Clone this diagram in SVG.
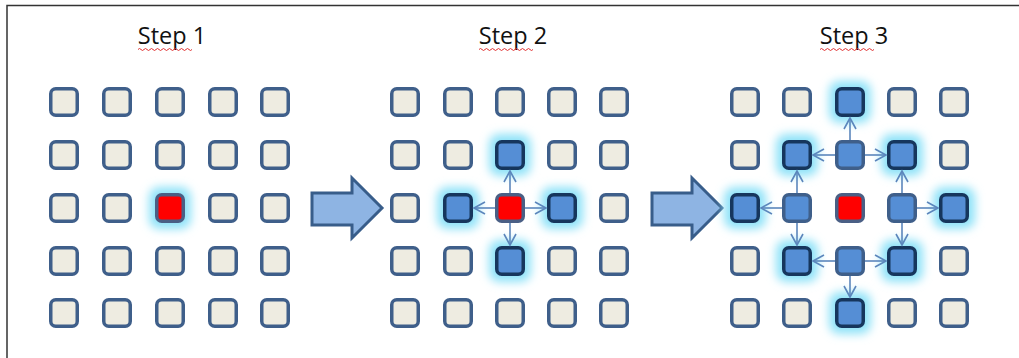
<svg xmlns="http://www.w3.org/2000/svg" width="1019" height="358" viewBox="0 0 1019 358">
<defs>
<style>
.t{font-family:"Open Sans","Liberation Sans",sans-serif;font-size:23.5px;fill:#111;text-anchor:middle}
.b{fill:#EEECE1;stroke:#3F5F8A;stroke-width:3.5}
.n{fill:#558ED5;stroke:#16365D;stroke-width:3.5}
.m{fill:#558ED5;stroke:#3F5F8A;stroke-width:3.5}
.r{fill:#FF0000;stroke:#4A5F85;stroke-width:3.5}
.g{fill:#8FE2F8;filter:url(#blur)}
.c{stroke:#5B86BC;stroke-width:1.6;fill:none;marker-end:url(#ah)}
.sq{fill:none;stroke:#E03030;stroke-width:1}
.ba{fill:#8EB4E3;stroke:#385D8A;stroke-width:3;stroke-linejoin:miter}
</style>
<filter id="blur" x="-50%" y="-50%" width="200%" height="200%"><feGaussianBlur stdDeviation="5"/></filter>
<marker id="ah" viewBox="0 0 14 14" refX="12" refY="7" markerWidth="14" markerHeight="14" markerUnits="userSpaceOnUse" orient="auto"><path d="M1,1 L12,7 L1,13" fill="none" stroke="#5B86BC" stroke-width="1.6"/></marker>
<rect id="s" x="-13.25" y="-13.25" width="26.5" height="26.5" rx="5"/>
<rect id="gl" x="-21" y="-21" width="42" height="42" rx="10"/>
</defs>
<rect width="1019" height="358" fill="#fff"/>
<path d="M7,358 V5.5 H1019" fill="none" stroke="#333" stroke-width="1.5"/>
<text class="t" x="172" y="44">Step 1</text>
<text class="t" x="513" y="44">Step 2</text>
<text class="t" x="854" y="44">Step 3</text>
<path class="sq" d="M138,49.5 q1.5,-2 3,0 t3,0 t3,0 t3,0 t3,0 t3,0 t3,0 t3,0 t3,0 t3,0 t3,0 t3,0 t3,0 t3,0 t3,0 t3,0 t3,0 t3,0"/>
<path class="sq" d="M479,49.5 q1.5,-2 3,0 t3,0 t3,0 t3,0 t3,0 t3,0 t3,0 t3,0 t3,0 t3,0 t3,0 t3,0 t3,0 t3,0 t3,0 t3,0 t3,0 t3,0"/>
<path class="sq" d="M820,49.5 q1.5,-2 3,0 t3,0 t3,0 t3,0 t3,0 t3,0 t3,0 t3,0 t3,0 t3,0 t3,0 t3,0 t3,0 t3,0 t3,0 t3,0 t3,0 t3,0"/>
<g id="arrow1"><path class="ba" d="M312,193 H352 V178 L382,208 L352,238 V225 H312 Z"/></g>
<g id="arrow2"><path class="ba" d="M652,193 H692 V178 L722,208 L692,238 V225 H652 Z"/></g>
<g id="step1">
<use href="#gl" class="g" x="170" y="208"/>
<use href="#s" class="b" x="64" y="102"/><use href="#s" class="b" x="117" y="102"/><use href="#s" class="b" x="170" y="102"/><use href="#s" class="b" x="223" y="102"/><use href="#s" class="b" x="275" y="102"/>
<use href="#s" class="b" x="64" y="155"/><use href="#s" class="b" x="117" y="155"/><use href="#s" class="b" x="170" y="155"/><use href="#s" class="b" x="223" y="155"/><use href="#s" class="b" x="275" y="155"/>
<use href="#s" class="b" x="64" y="208"/><use href="#s" class="b" x="117" y="208"/><use href="#s" class="r" x="170" y="208"/><use href="#s" class="b" x="223" y="208"/><use href="#s" class="b" x="275" y="208"/>
<use href="#s" class="b" x="64" y="261"/><use href="#s" class="b" x="117" y="261"/><use href="#s" class="b" x="170" y="261"/><use href="#s" class="b" x="223" y="261"/><use href="#s" class="b" x="275" y="261"/>
<use href="#s" class="b" x="64" y="313"/><use href="#s" class="b" x="117" y="313"/><use href="#s" class="b" x="170" y="313"/><use href="#s" class="b" x="223" y="313"/><use href="#s" class="b" x="275" y="313"/>
</g>
<g id="step2">
<use href="#gl" class="g" x="510" y="155"/><use href="#gl" class="g" x="458" y="208"/><use href="#gl" class="g" x="562" y="208"/><use href="#gl" class="g" x="510" y="261"/>
<use href="#s" class="b" x="405" y="102"/><use href="#s" class="b" x="458" y="102"/><use href="#s" class="b" x="510" y="102"/><use href="#s" class="b" x="562" y="102"/><use href="#s" class="b" x="614" y="102"/>
<use href="#s" class="b" x="405" y="155"/><use href="#s" class="b" x="458" y="155"/><use href="#s" class="n" x="510" y="155"/><use href="#s" class="b" x="562" y="155"/><use href="#s" class="b" x="614" y="155"/>
<use href="#s" class="b" x="405" y="208"/><use href="#s" class="n" x="458" y="208"/><use href="#s" class="r" x="510" y="208"/><use href="#s" class="n" x="562" y="208"/><use href="#s" class="b" x="614" y="208"/>
<use href="#s" class="b" x="405" y="261"/><use href="#s" class="b" x="458" y="261"/><use href="#s" class="n" x="510" y="261"/><use href="#s" class="b" x="562" y="261"/><use href="#s" class="b" x="614" y="261"/>
<use href="#s" class="b" x="405" y="313"/><use href="#s" class="b" x="458" y="313"/><use href="#s" class="b" x="510" y="313"/><use href="#s" class="b" x="562" y="313"/><use href="#s" class="b" x="614" y="313"/>
</g>
<g id="step3">
<use href="#gl" class="g" x="850" y="102"/><use href="#gl" class="g" x="797" y="155"/><use href="#gl" class="g" x="902" y="155"/><use href="#gl" class="g" x="745" y="208"/><use href="#gl" class="g" x="954" y="208"/><use href="#gl" class="g" x="797" y="261"/><use href="#gl" class="g" x="902" y="261"/><use href="#gl" class="g" x="850" y="313"/>
<use href="#s" class="b" x="745" y="102"/><use href="#s" class="b" x="797" y="102"/><use href="#s" class="n" x="850" y="102"/><use href="#s" class="b" x="902" y="102"/><use href="#s" class="b" x="954" y="102"/>
<use href="#s" class="b" x="745" y="155"/><use href="#s" class="n" x="797" y="155"/><use href="#s" class="m" x="850" y="155"/><use href="#s" class="n" x="902" y="155"/><use href="#s" class="b" x="954" y="155"/>
<use href="#s" class="n" x="745" y="208"/><use href="#s" class="m" x="797" y="208"/><use href="#s" class="r" x="850" y="208"/><use href="#s" class="m" x="902" y="208"/><use href="#s" class="n" x="954" y="208"/>
<use href="#s" class="b" x="745" y="261"/><use href="#s" class="n" x="797" y="261"/><use href="#s" class="m" x="850" y="261"/><use href="#s" class="n" x="902" y="261"/><use href="#s" class="b" x="954" y="261"/>
<use href="#s" class="b" x="745" y="313"/><use href="#s" class="b" x="797" y="313"/><use href="#s" class="n" x="850" y="313"/><use href="#s" class="b" x="902" y="313"/><use href="#s" class="b" x="954" y="313"/>
</g>
<g id="connectors">
<path class="c" d="M510,193 V171"/>
<path class="c" d="M510,223 V245"/>
<path class="c" d="M495,208 H474"/>
<path class="c" d="M525,208 H546"/>
<path class="c" d="M850,140 V118"/>
<path class="c" d="M835,155 H813"/>
<path class="c" d="M865,155 H886"/>
<path class="c" d="M797,193 V171"/>
<path class="c" d="M782,208 H761"/>
<path class="c" d="M797,223 V245"/>
<path class="c" d="M902,193 V171"/>
<path class="c" d="M917,208 H938"/>
<path class="c" d="M902,223 V245"/>
<path class="c" d="M835,261 H813"/>
<path class="c" d="M865,261 H886"/>
<path class="c" d="M850,276 V297"/>
</g>
</svg>
